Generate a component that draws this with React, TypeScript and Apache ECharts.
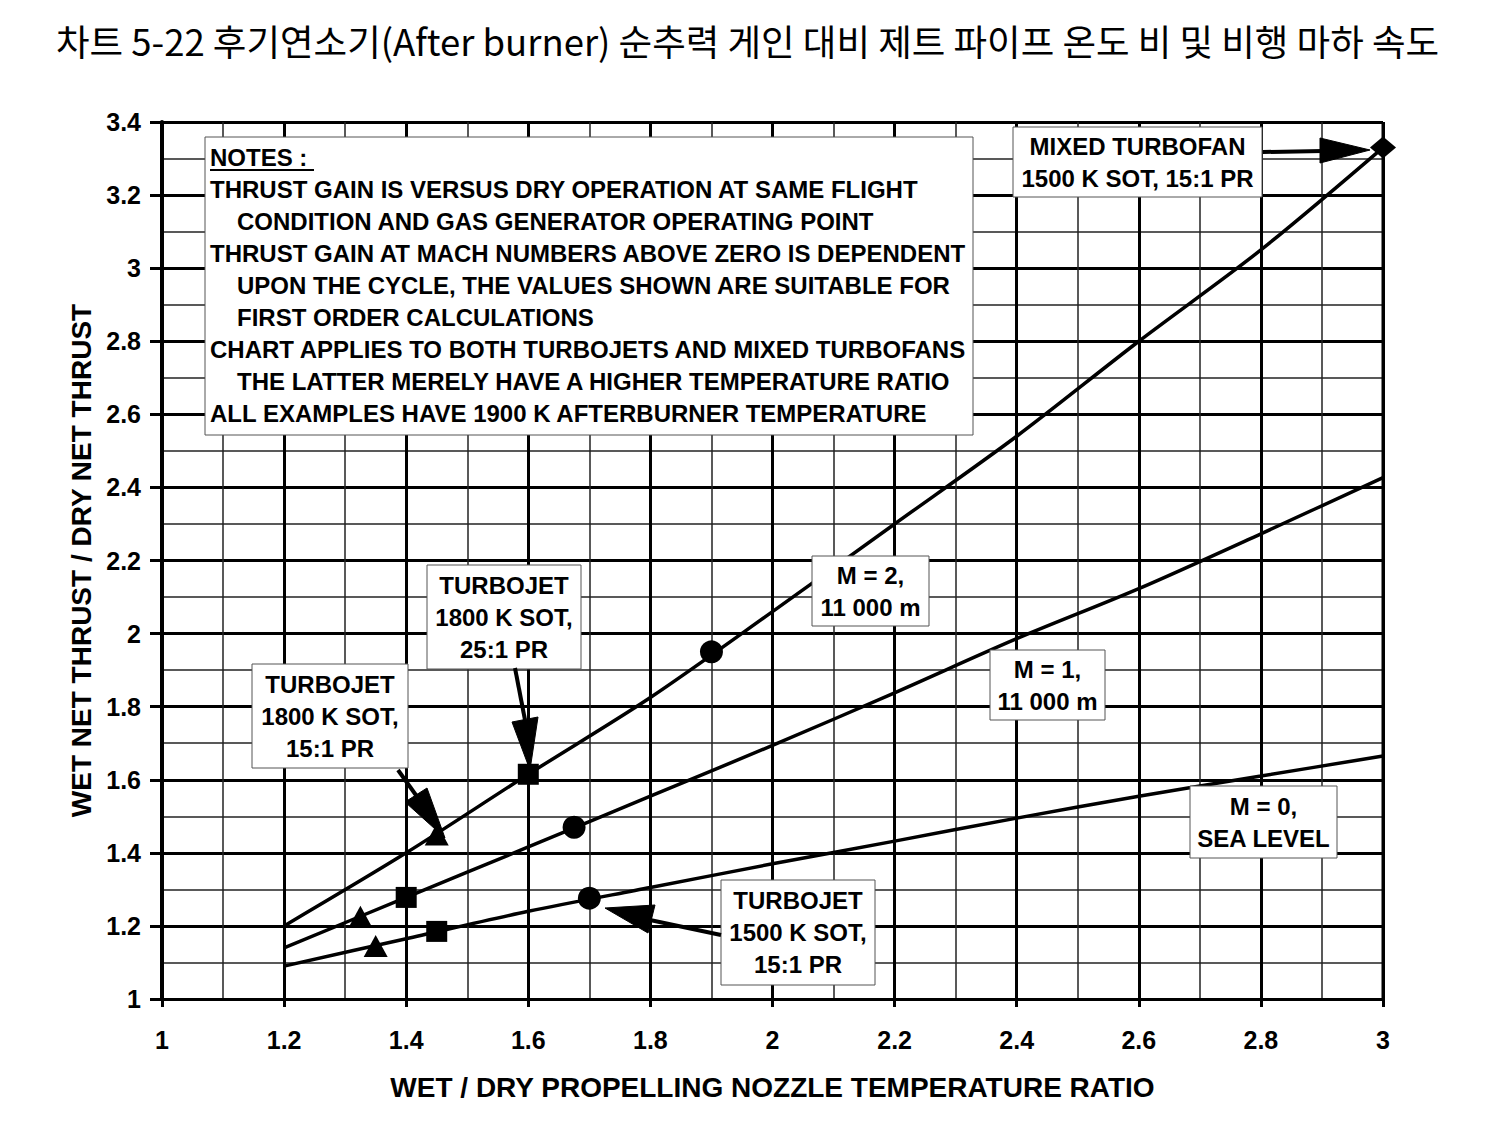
import React, { useEffect, useRef } from "react";
import * as echarts from "echarts";

// ---- data ----
const ratioX = [1.2, 1.4, 1.6, 1.8, 2.0, 2.2, 2.4, 2.6, 2.8, 3.0];
const gainMach2 = [1.2, 1.4, 1.615, 1.825, 2.06, 2.3, 2.54, 2.8, 3.05, 3.33];
const gainMach1 = [1.14, 1.278, 1.416, 1.555, 1.694, 1.838, 1.986, 2.123, 2.273, 2.427];
const gainMach0 = [1.09, 1.165, 1.24, 1.305, 1.37, 1.432, 1.495, 1.555, 1.61, 1.665];

const tj1800pr15 = [[1.45, 1.45], [1.325, 1.225], [1.35, 1.145]];
const tj1800pr25 = [[1.6, 1.615], [1.4, 1.278], [1.45, 1.185]];
const tj1500pr15 = [[1.9, 1.95], [1.675, 1.47], [1.7, 1.276]];
const mixedTurbofan = [[3.0, 3.33]];

const titleText =
  "차트 5-22 후기연소기(After burner) 순추력 게인 대비 제트 파이프 온도 비 및 비행 마하 속도";
const xName = "WET / DRY PROPELLING NOZZLE TEMPERATURE RATIO";
const yName = "WET NET THRUST / DRY NET THRUST";

const notesLines = [
  { t: "NOTES :", indent: false },
  { t: "THRUST GAIN IS VERSUS DRY OPERATION AT SAME FLIGHT", indent: false },
  { t: "CONDITION AND GAS GENERATOR OPERATING POINT", indent: true },
  { t: "THRUST GAIN AT MACH NUMBERS ABOVE ZERO IS DEPENDENT", indent: false },
  { t: "UPON THE CYCLE, THE VALUES SHOWN ARE SUITABLE FOR", indent: true },
  { t: "FIRST ORDER CALCULATIONS", indent: true },
  { t: "CHART APPLIES TO BOTH TURBOJETS AND MIXED TURBOFANS", indent: false },
  { t: "THE LATTER MERELY HAVE A HIGHER TEMPERATURE RATIO", indent: true },
  { t: "ALL EXAMPLES HAVE 1900 K AFTERBURNER TEMPERATURE", indent: false },
];

const labelBoxes = [
  { x: 1005, y: 119, w: 249, h: 70, lines: ["MIXED TURBOFAN", "1500 K SOT, 15:1 PR"] },
  { x: 804, y: 548, w: 117, h: 70, lines: ["M = 2,", "11 000 m"] },
  { x: 982, y: 642, w: 115, h: 70, lines: ["M = 1,", "11 000 m"] },
  { x: 1182, y: 778, w: 147, h: 72, lines: ["M = 0,", "SEA LEVEL"] },
  { x: 419, y: 557, w: 154, h: 104, lines: ["TURBOJET", "1800 K SOT,", "25:1 PR"] },
  { x: 244, y: 656, w: 156, h: 104, lines: ["TURBOJET", "1800 K SOT,", "15:1 PR"] },
  { x: 713, y: 872, w: 154, h: 105, lines: ["TURBOJET", "1500 K SOT,", "15:1 PR"] },
];

const arrows = [
  { shaft: [[1255, 144], [1315, 143]], head: [[1362, 142], [1312, 130], [1312, 155]] },
  { shaft: [[507, 660], [517, 712]], head: [[504, 714], [530, 709], [522, 762]] },
  { shaft: [[390, 762], [410, 790]], head: [[397, 794], [419, 780], [437, 830]] },
  { shaft: [[642, 912], [713, 927]], head: [[597, 900], [647, 897], [640, 925]] },
];

const FONT = "'Liberation Sans', Arial, sans-serif";

export default function App() {
  const ref = useRef<HTMLDivElement>(null);

  useEffect(() => {
    if (!ref.current) return;
    const chart = echarts.init(ref.current, null, { renderer: "svg" });

    const graphics: any[] = [];
    // notes box
    graphics.push({
      type: "rect",
      z: 100,
      shape: { x: 197, y: 129, width: 768, height: 298 },
      style: { fill: "#fff", stroke: "#555", lineWidth: 1 },
    });
    notesLines.forEach((l, i) => {
      graphics.push({
        type: "text",
        z: 101,
        x: l.indent ? 229 : 202,
        y: 149 + i * 32.1,
        style: {
          text: l.t,
          fill: "#000",
          fontSize: 24,
          fontWeight: "bold",
          fontFamily: FONT,
          textVerticalAlign: "middle",
          textAlign: "left",
        },
      });
    });
    graphics.push({
      type: "line",
      z: 101,
      shape: { x1: 202, y1: 162, x2: 306, y2: 162 },
      style: { stroke: "#000", lineWidth: 2 },
    });

    labelBoxes.forEach((b) => {
      graphics.push({
        type: "rect",
        z: 100,
        shape: { x: b.x, y: b.y, width: b.w, height: b.h },
        style: { fill: "#fff", stroke: "#555", lineWidth: 1 },
      });
      const n = b.lines.length;
      b.lines.forEach((t, i) => {
        graphics.push({
          type: "text",
          z: 101,
          x: b.x + b.w / 2,
          y: b.y + b.h / 2 + (i - (n - 1) / 2) * 32,
          style: {
            text: t,
            fill: "#000",
            fontSize: 24,
            fontWeight: "bold",
            fontFamily: FONT,
            textAlign: "center",
            textVerticalAlign: "middle",
          },
        });
      });
    });

    arrows.forEach((a) => {
      graphics.push({
        type: "line",
        z: 102,
        shape: { x1: a.shaft[0][0], y1: a.shaft[0][1], x2: a.shaft[1][0], y2: a.shaft[1][1] },
        style: { stroke: "#000", lineWidth: 4 },
      });
      graphics.push({
        type: "polygon",
        z: 102,
        shape: { points: a.head },
        style: { fill: "#000", stroke: "#000", lineWidth: 1 },
      });
    });

    const lineSeries = (name: string, ys: number[]) => ({
      name,
      type: "line",
      data: ratioX.map((x, i) => [x, ys[i]]),
      showSymbol: false,
      smooth: 0.3,
      lineStyle: { color: "#000", width: 3.5 },
      z: 3,
    });
    const markerSeries = (name: string, data: number[][], symbol: string, size: any) => ({
      name,
      type: "scatter",
      data,
      symbol,
      symbolSize: size,
      itemStyle: { color: "#000", opacity: 1 },
      z: 4,
    });

    const axisLabel = {
      color: "#000",
      fontSize: 25,
      fontWeight: "bold",
      fontFamily: FONT,
    };
    const nameStyle = {
      color: "#000",
      fontSize: 28,
      fontWeight: "bold",
      fontFamily: FONT,
    };

    chart.setOption({
      animation: false,
      backgroundColor: "#fff",
      title: {
        text: titleText,
        left: "center",
        top: 9,
        textStyle: {
          fontFamily: "'Noto Sans CJK KR', sans-serif",
          fontSize: 36.5,
          fontWeight: "normal",
          color: "#000",
        },
      },
      grid: { left: 154, top: 114, width: 1221, height: 877, containLabel: false },
      xAxis: {
        type: "value",
        min: 1,
        max: 3,
        interval: 0.2,
        name: xName,
        nameLocation: "middle",
        nameGap: 74,
        nameTextStyle: nameStyle,
        axisLine: { show: true, onZero: false, lineStyle: { color: "#000", width: 3 } },
        axisTick: { show: true, length: 8, lineStyle: { color: "#000", width: 3 } },
        axisLabel: { ...axisLabel, margin: 28 },
        splitLine: { show: true, lineStyle: { color: "#000", width: 3 } },
        minorTick: { show: false, splitNumber: 2 },
        minorSplitLine: { show: true, lineStyle: { color: "#222", width: 1.5 } },
      },
      yAxis: {
        type: "value",
        min: 1,
        max: 3.4,
        interval: 0.2,
        name: yName,
        nameLocation: "middle",
        nameRotate: 90,
        nameGap: 66,
        nameTextStyle: nameStyle,
        axisLine: { show: true, onZero: false, lineStyle: { color: "#000", width: 4 } },
        axisTick: { show: true, length: 12, lineStyle: { color: "#000", width: 3 } },
        axisLabel: { ...axisLabel, margin: 21 },
        splitLine: { show: true, lineStyle: { color: "#000", width: 3 } },
        minorTick: { show: false, splitNumber: 2 },
        minorSplitLine: { show: true, lineStyle: { color: "#222", width: 1.5 } },
      },
      series: [
        lineSeries("M = 2, 11 000 m", gainMach2),
        lineSeries("M = 1, 11 000 m", gainMach1),
        lineSeries("M = 0, SEA LEVEL", gainMach0),
        markerSeries("TURBOJET 1800 K SOT, 15:1 PR", tj1800pr15, "triangle", [24, 22]),
        markerSeries("TURBOJET 1800 K SOT, 25:1 PR", tj1800pr25, "rect", 21),
        markerSeries("TURBOJET 1500 K SOT, 15:1 PR", tj1500pr15, "circle", 23),
        markerSeries("MIXED TURBOFAN 1500 K SOT, 15:1 PR", mixedTurbofan, "diamond", [26, 22]),
        {
          type: "line",
          data: [[3, 1], [3, 3.4]],
          showSymbol: false,
          lineStyle: { color: "#000", width: 3 },
          z: 2,
          silent: true,
        },
      ],
      graphic: graphics,
    });

    return () => chart.dispose();
  }, []);

  return <div ref={ref} style={{ width: 1479, height: 1109 }} />;
}
